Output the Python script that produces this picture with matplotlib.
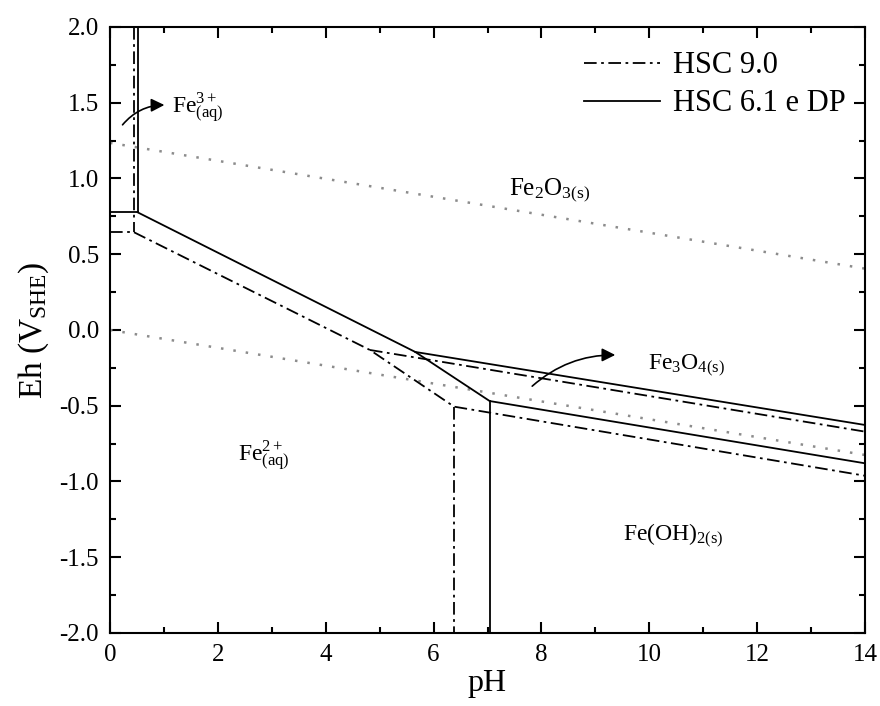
import matplotlib
matplotlib.use('Agg')
import matplotlib.pyplot as plt
from matplotlib.ticker import MultipleLocator, FormatStrFormatter

plt.rcParams['font.family'] = 'Liberation Serif'
plt.rcParams['mathtext.fontset'] = 'custom'
plt.rcParams['mathtext.rm'] = 'Liberation Serif'
plt.rcParams['mathtext.it'] = 'Liberation Serif:italic'

# HSC 6.1 e DP (solid) boundaries
dp_fe3_ph = [0.51, 0.51]
dp_fe3_eh = [2.0, 0.777]
dp_top_ph = [0.0, 0.51]
dp_top_eh = [0.777, 0.777]
dp_main_ph = [0.51, 5.66, 7.04, 14.0]
dp_main_eh = [0.777, -0.145, -0.469, -0.880]
dp_upper_ph = [5.66, 14.0]
dp_upper_eh = [-0.145, -0.627]
dp_vert_ph = [7.04, 7.04]
dp_vert_eh = [-0.469, -2.0]

# HSC 9.0 (dash-dot) boundaries
h9_fe3_ph = [0.445, 0.445]
h9_fe3_eh = [2.0, 0.645]
h9_top_ph = [0.0, 0.445]
h9_top_eh = [0.645, 0.645]
h9_main_ph = [0.445, 4.82, 6.38, 14.0]
h9_main_eh = [0.645, -0.132, -0.506, -0.962]
h9_upper_ph = [4.82, 14.0]
h9_upper_eh = [-0.132, -0.671]
h9_vert_ph = [6.38, 6.38]
h9_vert_eh = [-0.506, -2.0]

# water stability lines
water_ph = [0.0, 14.0]
water_o2 = [1.235, 0.405]
water_h2 = [0.0, -0.825]

fig = plt.figure(figsize=(8.8, 7.06), dpi=100)
ax = fig.add_axes([0.125, 0.1034, 0.858, 0.8584])

dashdot = (0, (7, 2.5, 1.5, 2.5))
kw_s = dict(color='black', lw=1.3)
kw_d = dict(color='black', lw=1.3, linestyle=dashdot)

ax.plot(water_ph, water_o2, color='#8c8c8c', lw=1.8, linestyle=(0, (1, 4)))
ax.plot(water_ph, water_h2, color='#8c8c8c', lw=1.8, linestyle=(0, (1, 4)))

ax.plot(h9_fe3_ph, h9_fe3_eh, **kw_d)
ax.plot(h9_top_ph, h9_top_eh, **kw_d)
ax.plot(h9_main_ph, h9_main_eh, label='HSC 9.0', **kw_d)
ax.plot(h9_upper_ph, h9_upper_eh, **kw_d)
ax.plot(h9_vert_ph, h9_vert_eh, **kw_d)

ax.plot(dp_fe3_ph, dp_fe3_eh, **kw_s)
ax.plot(dp_top_ph, dp_top_eh, **kw_s)
ax.plot(dp_main_ph, dp_main_eh, label='HSC 6.1 e DP', **kw_s)
ax.plot(dp_upper_ph, dp_upper_eh, **kw_s)
ax.plot(dp_vert_ph, dp_vert_eh, **kw_s)

ax.set_xlim(0, 14)
ax.set_ylim(-2.0, 2.0)
ax.xaxis.set_major_locator(MultipleLocator(2))
ax.xaxis.set_minor_locator(MultipleLocator(1))
ax.yaxis.set_major_locator(MultipleLocator(0.5))
ax.yaxis.set_minor_locator(MultipleLocator(0.25))
ax.yaxis.set_major_formatter(FormatStrFormatter('%.1f'))
ax.tick_params(which='both', direction='in', top=True, right=True, width=1.5)
ax.tick_params(which='major', length=8, labelsize=18, pad=8)
ax.tick_params(which='minor', length=4.5)
for s in ax.spines.values():
    s.set_linewidth(1.5)

ax.set_xlabel('pH', fontsize=23, labelpad=2)
ax.set_ylabel(r'Eh (V$_{\mathrm{SHE}}$)', fontsize=24, labelpad=6)

ax.legend(loc='upper right', bbox_to_anchor=(0.99, 0.98), fontsize=22, frameon=False,
          handlelength=2.5, handletextpad=0.4, labelspacing=0.3, borderaxespad=0.0)

tfs = 17
ax.text(1.15, 1.47, r'$\mathrm{Fe}^{3+}_{\mathrm{(aq)}}$', fontsize=tfs, va='center', ha='left')
ax.text(8.15, 0.92, r'$\mathrm{Fe_2O_{3(s)}}$', fontsize=18, va='center', ha='center')
ax.text(9.98, -0.24, r'$\mathrm{Fe_3O_{4(s)}}$', fontsize=tfs, va='center', ha='left')
ax.text(2.85, -0.83, r'$\mathrm{Fe}^{2+}_{\mathrm{(aq)}}$', fontsize=tfs, va='center', ha='center')
ax.text(10.45, -1.36, r'$\mathrm{Fe(OH)_{2(s)}}$', fontsize=tfs, va='center', ha='center')

ax.annotate('', xy=(1.06, 1.485), xytext=(0.2, 1.34),
            arrowprops=dict(arrowstyle='-|>', color='black', lw=1.2,
                            mutation_scale=20, connectionstyle='arc3,rad=-0.25'))
ax.annotate('', xy=(9.42, -0.165), xytext=(7.79, -0.383),
            arrowprops=dict(arrowstyle='-|>', color='black', lw=1.2,
                            mutation_scale=20, connectionstyle='arc3,rad=-0.2'))

fig.savefig('out.png', dpi=100)
